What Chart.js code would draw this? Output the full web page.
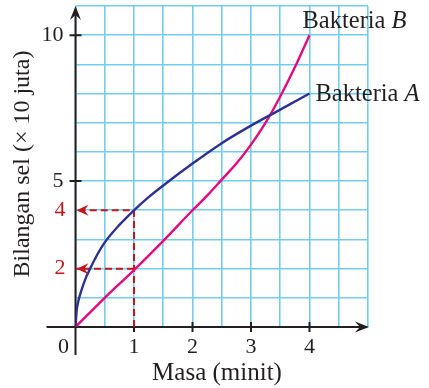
<!DOCTYPE html>
<html lang="id">
<head>
<meta charset="UTF-8">
<title>Bakteria A dan B</title>
<script src="https://cdn.jsdelivr.net/npm/chart.js"></script>
<style>
  html, body { margin: 0; padding: 0; background: #fff; }
  #graf { display: block; }
</style>
</head>
<body>
<canvas id="graf" width="429" height="388"></canvas>
<script>
// masa (minit) dan bilangan sel (x 10 juta), dibaca dari graf
const masaA = [0, 0.02, 0.05, 0.1, 0.18, 0.25, 0.35, 0.5, 0.75, 1, 1.25, 1.5, 2, 2.5, 3, 3.5, 4];
const bakteriaA = [0, 0.55, 0.9, 1.25, 1.7, 2.0, 2.4, 2.9, 3.5, 4.0, 4.45, 4.85, 5.6, 6.3, 6.9, 7.45, 8.0];
const masaB = [0, 0.5, 1, 1.5, 2, 2.25, 2.5, 2.75, 3, 3.25, 3.5, 3.75, 4];
const bakteriaB = [0, 1.0, 1.95, 2.95, 4.0, 4.5, 5.05, 5.6, 6.25, 7.0, 7.9, 8.9, 10.0];

const xTickLabels = [1, 2, 3, 4];
const yTickLabels = [5, 10];
const masaBacaan = 1;         // garis putus-putus pada t = 1
const nilaiBacaan = [4, 2];   // bacaan untuk A dan B

const FONT = '"Liberation Serif", "Times New Roman", serif';
const MERAH = '#c3161c';
const HITAM = '#231f20';

const toPts = (xs, ys) => xs.map((v, i) => ({ x: v, y: ys[i] }));

function arrowHead(ctx, x, y, angle, len, half) {
  ctx.save();
  ctx.translate(x, y);
  ctx.rotate(angle);
  ctx.beginPath();
  ctx.moveTo(0, 0);
  ctx.lineTo(-len, -half);
  ctx.lineTo(-len * 0.65, 0);
  ctx.lineTo(-len, half);
  ctx.closePath();
  ctx.fill();
  ctx.restore();
}

const hiasan = {
  id: 'hiasan',
  beforeDatasetsDraw(chart) {
    const { ctx, scales: { x, y } } = chart;
    const x0 = x.getPixelForValue(0), y0 = y.getPixelForValue(0);
    ctx.save();
    ctx.strokeStyle = HITAM;
    ctx.fillStyle = HITAM;
    ctx.lineWidth = 2;
    // paksi
    ctx.beginPath();
    ctx.moveTo(x0 - 29, y0); ctx.lineTo(x.right - 6, y0);
    ctx.moveTo(x0, y0 + 28); ctx.lineTo(x0, y.top + 6);
    xTickLabels.forEach(v => {
      const px = x.getPixelForValue(v);
      ctx.moveTo(px, y0 - 5); ctx.lineTo(px, y0 + 5);
    });
    yTickLabels.forEach(v => {
      const py = y.getPixelForValue(v);
      ctx.moveTo(x0 - 6, py); ctx.lineTo(x0 + 6, py);
    });
    ctx.stroke();
    arrowHead(ctx, x.right + 1, y0, 0, 14, 5.5);
    arrowHead(ctx, x0, y.top, -Math.PI / 2, 14, 5.5);

    // label tanda
    ctx.font = '22px ' + FONT;
    ctx.textBaseline = 'middle';
    ctx.textAlign = 'center';
    xTickLabels.forEach(v => ctx.fillText(String(v), x.getPixelForValue(v), y0 + 20));
    ctx.fillText('0', x0 - 12, y0 + 20);
    ctx.textAlign = 'right';
    yTickLabels.forEach(v => ctx.fillText(String(v), x0 - 12, y.getPixelForValue(v)));
    ctx.fillStyle = MERAH;
    nilaiBacaan.forEach(v => ctx.fillText(String(v), x0 - 10, y.getPixelForValue(v)));

    // tajuk paksi
    ctx.fillStyle = HITAM;
    ctx.textAlign = 'center';
    ctx.textBaseline = 'alphabetic';
    ctx.font = '25px ' + FONT;
    ctx.fillText('Masa (minit)', 217, 380);
    ctx.font = '24px ' + FONT;
    ctx.save();
    ctx.translate(29, 164);
    ctx.rotate(-Math.PI / 2);
    ctx.fillText('Bilangan sel (\u00d7 10 juta)', 0, 0);
    ctx.restore();
    ctx.restore();
  },
  afterDatasetsDraw(chart) {
    const { ctx, scales: { x, y } } = chart;
    const x0 = x.getPixelForValue(0);
    ctx.save();
    ctx.fillStyle = MERAH;
    nilaiBacaan.forEach(v => arrowHead(ctx, x0 + 1, y.getPixelForValue(v), Math.PI, 12, 5.5));

    // label lengkung
    ctx.fillStyle = HITAM;
    ctx.textBaseline = 'alphabetic';
    const tulis = (nama, huruf, px, py) => {
      ctx.font = '24.5px ' + FONT;
      ctx.fillText(nama, px, py);
      const w = ctx.measureText(nama).width;
      ctx.font = 'italic 24.5px ' + FONT;
      ctx.fillText(huruf, px + w, py);
    };
    const endB = masaB.length - 1, endA = masaA.length - 1;
    tulis('Bakteria ', 'B', x.getPixelForValue(masaB[endB]) - 7, y.getPixelForValue(bakteriaB[endB]) - 7);
    tulis('Bakteria ', 'A', x.getPixelForValue(masaA[endA]) + 6, y.getPixelForValue(bakteriaA[endA]) + 7);
    ctx.restore();
  }
};

const gridOpts = { color: '#72cdf1', lineWidth: 1.6, drawTicks: false };

new Chart(document.getElementById('graf'), {
  type: 'line',
  data: {
    datasets: [
      {
        data: toPts(masaA, bakteriaA),
        borderColor: '#2e3192', borderWidth: 2.4,
        cubicInterpolationMode: 'monotone', pointRadius: 0, order: 1
      },
      {
        data: toPts(masaB, bakteriaB),
        borderColor: '#e5097f', borderWidth: 2.4,
        cubicInterpolationMode: 'monotone', pointRadius: 0, order: 2
      },
      {
        data: [{ x: masaBacaan, y: 0 }, { x: masaBacaan, y: nilaiBacaan[0] }, { x: 0, y: nilaiBacaan[0] }],
        borderColor: MERAH, borderWidth: 2, borderDash: [7, 4],
        tension: 0, pointRadius: 0, order: 3
      },
      {
        data: [{ x: masaBacaan, y: nilaiBacaan[1] }, { x: 0, y: nilaiBacaan[1] }],
        borderColor: MERAH, borderWidth: 2, borderDash: [7, 4],
        tension: 0, pointRadius: 0, order: 3
      }
    ]
  },
  options: {
    responsive: false,
    animation: false,
    events: [],
    layout: { padding: { left: 75.5, right: 61, top: 6, bottom: 61 } },
    plugins: { legend: { display: false }, tooltip: { enabled: false } },
    scales: {
      x: {
        type: 'linear', min: 0, max: 5,
        ticks: { display: false, stepSize: 0.5 },
        grid: gridOpts, border: { display: false }
      },
      y: {
        type: 'linear', min: 0, max: 11,
        ticks: { display: false, stepSize: 1 },
        grid: gridOpts, border: { display: false }
      }
    }
  },
  plugins: [hiasan]
});
</script>
</body>
</html>
